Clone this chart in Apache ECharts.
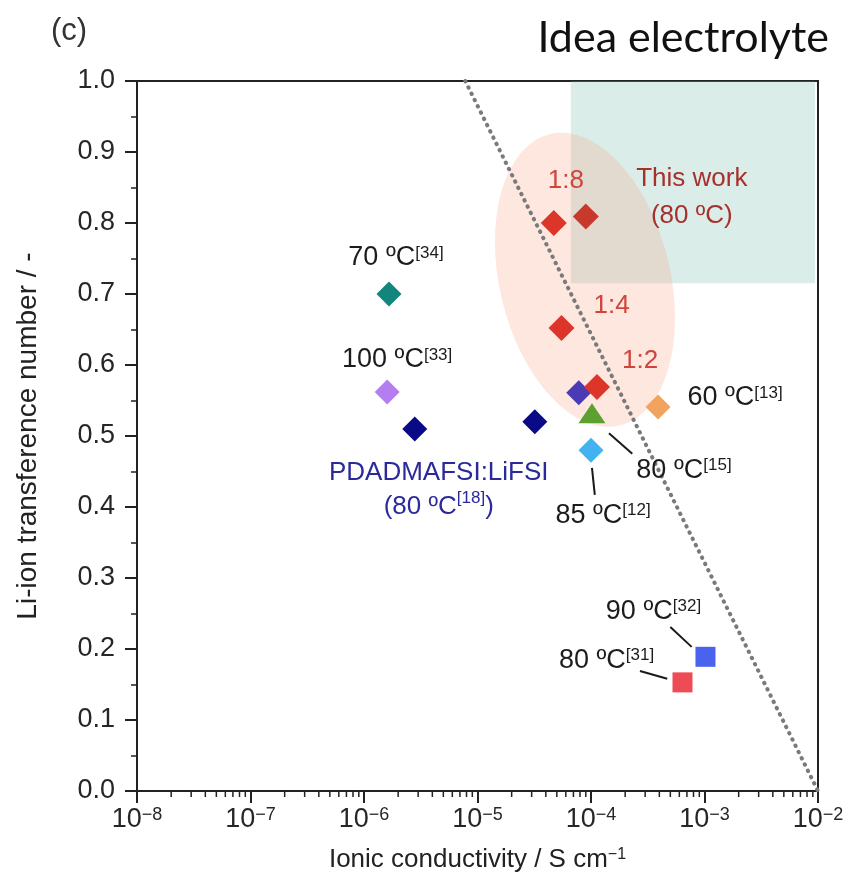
<!DOCTYPE html>
<html><head><meta charset="utf-8">
<script src="https://cdn.jsdelivr.net/npm/echarts@6/dist/echarts.min.js"></script>
<style>html,body{margin:0;padding:0;background:#fff}#c{width:848px;height:884px}</style>
</head><body><div id="c"></div>
<script>
// ---------- data ----------
const xMin = 1e-8, xMax = 1e-2;
const yMin = 0, yMax = 1, yInterval = 0.1;
const xDecades = [-8, -7, -6, -5, -4, -3];
const xMinorMultipliers = [2, 3, 4, 5, 6, 7, 8, 9];

// This work (80 ºC), salt ratios
const thisWorkX = [4.7e-5, 9.0e-5, 5.5e-5, 1.13e-4];
const thisWorkY = [0.800, 0.809, 0.652, 0.569];
const thisWorkLabels = ['1:8', '', '1:4', '1:2'];

// PDADMAFSI:LiFSI (80 ºC[18])
const pdadmaX = [2.8e-6, 3.2e-5];
const pdadmaY = [0.510, 0.520];

// literature points
const refLabels = ['70 ºC[34]', '100 ºC[33]', '60 ºC[13]', '80 ºC[15]', '85 ºC[12]', '90 ºC[32]', '80 ºC[31]', ''];
const refX = [1.66e-6, 1.6e-6, 3.9e-4, 1.02e-4, 1.0e-4, 1.02e-3, 6.4e-4, 7.8e-5];
const refY = [0.700, 0.562, 0.541, 0.532, 0.480, 0.189, 0.153, 0.561];

// dotted boundary line
const boundaryX = [7.8e-6, 1e-2];
const boundaryY = [1.0, 0.0];

// "Idea electrolyte" region
const idealX = [6.65e-5, 9.4e-3];
const idealY = [0.715, 1.0];

// ellipse around this work: centre, half-height (y units), half-width (decades)
const ellipseCentre = [8.85e-5, 0.72];
const ellipseHalfY = 0.211, ellipseHalfDec = 0.752;

// leader lines [x1,y1,x2,y2]
const leaders = [
  [1.44e-4, 0.504, 2.31e-4, 0.475],
  [1.02e-4, 0.455, 1.08e-4, 0.417],
  [5.0e-4, 0.231, 7.7e-4, 0.203],
  [2.7e-4, 0.169, 4.7e-4, 0.158]
];

// ---------- styles ----------
const FONT = 'Liberation Sans';
const TXT = '#1c1c1c';
const refStyle = [
  {color:'#12867c', symbol:'diamond', size:[25,25], off:[7,-36]},
  {color:'#b47ef0', symbol:'diamond', size:[25,25], off:[10,-32]},
  {color:'#f2a35e', symbol:'diamond', size:[25,25], off:[77,-9]},
  {color:'#5e9f32', symbol:'triangle', size:[27,20], off:[92,57]},
  {color:'#43b3f0', symbol:'diamond', size:[25,25], off:[12,65]},
  {color:'#4a63ee', symbol:'rect', size:[20,20], off:[-52,-45]},
  {color:'#ef4b55', symbol:'rect', size:[20,20], off:[-76,-22]},
  {color:'#4a3bb5', symbol:'diamond', size:[25,25], off:[0,0]}
];
const thisWorkOff = [[12,-42],[0,0],[50,-22],[43,-26]];

function sup(t){ return t.replace(/\[(\d+)\]/g, '{s|[$1]}'); }
function supRich(color){ return {s:{fontSize:17, verticalAlign:'top', fontFamily:FONT, color:color}}; }

const series = [];

// ellipse
series.push({
  type: 'custom', z: 1, silent: true,
  data: [ellipseCentre],
  renderItem: function(params, api){
    const cx = api.value(0), cy = api.value(1);
    const c = api.coord([cx, cy]);
    const t = api.coord([cx, cy + ellipseHalfY]);
    const r = api.coord([cx * Math.pow(10, ellipseHalfDec), cy]);
    return {
      type: 'circle', shape: {cx:0, cy:0, r:1},
      x: c[0], y: c[1], scaleX: r[0]-c[0], scaleY: c[1]-t[1], rotation: 0.235,
      style: {fill: 'rgba(246,165,135,0.27)'}
    };
  }
});

// log minor ticks on the x axis (2..9 per decade)
const minorVals = [];
xDecades.forEach(d => xMinorMultipliers.forEach(m => minorVals.push([m * Math.pow(10, d), yMin])));
series.push({
  type: 'custom', z: 2, silent: true, clip: false,
  data: minorVals,
  renderItem: function(params, api){
    const p = api.coord([api.value(0), api.value(1)]);
    return {type:'line', shape:{x1:p[0], y1:p[1], x2:p[0], y2:p[1]+6}, style:{stroke:'#222', lineWidth:1.5}};
  }
});

// boundary + ideal area
series.push({
  type: 'line', z: 3, silent: true, symbol: 'none',
  data: boundaryX.map((x,i)=>[x, boundaryY[i]]),
  lineStyle: {color:'#7a7a7a', width: 4, type: [0.5, 6.5], cap: 'round'},
  markArea: {
    silent: true,
    itemStyle: {color: 'rgba(120,190,175,0.27)'},
    data: [[{coord:[idealX[0], idealY[0]]}, {coord:[idealX[1], idealY[1]]}]]
  }
});

// leader lines
leaders.forEach(l => series.push({
  type:'line', z: 4, silent: true, symbol:'none',
  data: [[l[0], l[1]], [l[2], l[3]]],
  lineStyle: {color:'#1a1a1a', width: 2}
}));

// PDADMAFSI
series.push({
  type:'scatter', z: 5, symbol:'diamond', symbolSize:[25,25],
  itemStyle:{color:'#0a0a88', opacity:1},
  data: pdadmaX.map((x,i)=>({
    value:[x, pdadmaY[i]],
    label: i===0 ? {
      show:true, position:'inside', offset:[24,61],
      formatter: 'PDADMAFSI:LiFSI\n' + sup('(80 ºC[18])'),
      color:'#2a2a9a', fontSize:26, fontFamily:FONT, lineHeight:34, align:'center',
      rich: supRich('#2a2a9a')
    } : {show:false}
  }))
});

// literature
refX.forEach((x,i)=>{
  const st = refStyle[i];
  series.push({
    type:'scatter', z: 5, symbol: st.symbol, symbolSize: st.size,
    itemStyle:{color: st.color, opacity:1},
    data:[{value:[x, refY[i]]}],
    label: {
      show: refLabels[i] !== '', position:'inside', offset: st.off,
      formatter: sup(refLabels[i]), color:TXT, fontSize:27, fontFamily:FONT,
      rich: supRich(TXT)
    }
  });
});

// this work
series.push({
  type:'scatter', z: 6, symbol:'diamond', symbolSize:[26,26],
  itemStyle:{color:'#dc3529', opacity:1},
  data: thisWorkX.map((x,i)=>({
    value:[x, thisWorkY[i]],
    itemStyle: i===1 ? {color:'#c8392c', opacity:1} : undefined,
    label: i===1 ? {
      show:true, position:'inside', offset:[106,-19],
      formatter:'This work\n(80 ºC)', color:'#a8302c', fontSize:26, fontFamily:FONT, lineHeight:37, align:'center'
    } : {
      show:true, position:'inside', offset: thisWorkOff[i],
      formatter: thisWorkLabels[i], color:'#d0443a', fontSize:26, fontFamily:FONT
    }
  }))
});

const chart = echarts.init(document.getElementById('c'), null, {renderer:'canvas'});
chart.setOption({
  animation: false,
  backgroundColor: '#fff',
  title: [
    {text:'(c)', left: 46, top: 8, textStyle:{fontFamily:FONT, fontSize:31, fontWeight:'normal', color:'#333', lineHeight:36}},
    {text:'Idea electrolyte', right: 14, top: 8, textStyle:{fontFamily:'Lato', fontSize:43, fontWeight:'normal', color:'#111', lineHeight:50}}
  ],
  grid: {left:137, right:30, top:81, bottom:93, show:true, borderColor:'#222', borderWidth:2, backgroundColor:'transparent'},
  xAxis: {
    type:'log', logBase:10, min:xMin, max:xMax,
    name:'Ionic conductivity / S cm{s|\u22121}', nameLocation:'middle', nameGap:56,
    nameTextStyle:{fontFamily:FONT, fontSize:26, color:'#222', rich:{s:{fontSize:16, verticalAlign:'top', fontFamily:FONT, color:'#222'}}},
    axisLine:{lineStyle:{color:'#222', width:2}},
    axisTick:{show:true, length:12, lineStyle:{color:'#222', width:2}},
    minorTick:{show:false},
    splitLine:{show:false},
    axisLabel:{
      margin:15, fontFamily:FONT, fontSize:27, color:'#262626',
      formatter: v => '10{s|\u2212' + Math.abs(Math.round(Math.log10(v))) + '}',
      rich:{s:{fontSize:18, verticalAlign:'top', fontFamily:FONT, color:'#262626'}}
    }
  },
  yAxis: {
    type:'value', min:yMin, max:yMax, interval:yInterval,
    name:'Li-ion transference number / -', nameLocation:'middle', nameGap:95, nameRotate:90,
    nameTextStyle:{fontFamily:FONT, fontSize:28, color:'#222'},
    axisLine:{lineStyle:{color:'#222', width:2}},
    axisTick:{show:true, length:12, lineStyle:{color:'#222', width:2}},
    minorTick:{show:true, splitNumber:2, length:6, lineStyle:{color:'#222', width:1.5}},
    splitLine:{show:false},
    axisLabel:{margin:22, fontFamily:FONT, fontSize:27, color:'#262626', formatter: v => v.toFixed(1)}
  },
  series: series
});
</script></body></html>
